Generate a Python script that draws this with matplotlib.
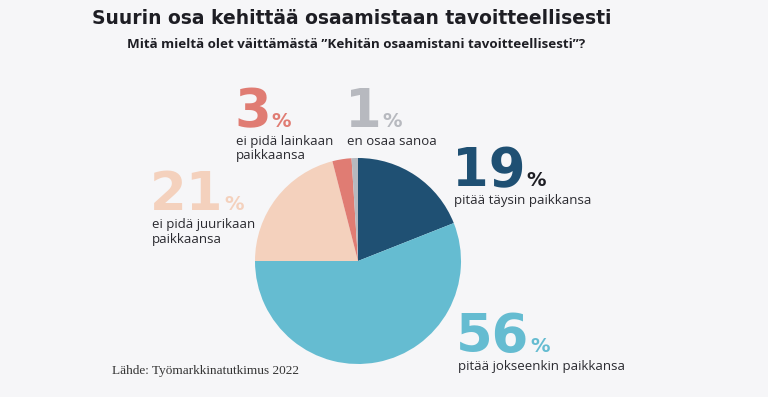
import matplotlib.pyplot as plt

# survey answers, percent
labels = ["pitää täysin paikkansa", "pitää jokseenkin paikkansa",
          "ei pidä juurikaan\npaikkaansa", "ei pidä lainkaan\npaikkaansa",
          "en osaa sanoa"]
values = [19, 56, 21, 3, 1]
colors = ["#1f5073", "#65bcd1", "#f4d1bd", "#e07c73", "#b7b9bf"]

# where the big number of each slice goes (pixels from top-left)
label_pos = [(452, 186), (456, 352), (150, 210), (234, 127), (345, 127)]

W, H = 768, 397
bg = "#f6f6f8"
fig = plt.figure(figsize=(W / 100, H / 100), dpi=100, facecolor=bg)

def px(x, y):
    return x / W, 1 - y / H

# pie
cx, cy, r = 358, 261, 103
ax = fig.add_axes([(cx - r) / W, (H - cy - r) / H, 2 * r / W, 2 * r / H])
ax.pie(values, colors=colors, startangle=90, counterclock=False,
       wedgeprops=dict(linewidth=0))
ax.set_xlim(-1, 1)
ax.set_ylim(-1, 1)
ax.set_aspect("equal")
ax.axis("off")

# titles
title = fig.text(*px(92, 18), "Suurin osa kehittää osaamistaan tavoitteellisesti",
                 fontsize=14, fontweight="bold", family="DejaVu Sans",
                 color="#1e1e24", va="center", ha="left")
fig.canvas.draw()
w = title.get_window_extent().width
title.set_fontsize(14 * 523 / w)
fig.text(*px(356, 45), "Mitä mieltä olet väittämästä ”Kehitän osaamistani tavoitteellisesti”?",
         fontsize=9.6, fontweight="bold", family="Open Sans", color="#1e1e24",
         va="center", ha="center")

# big numbers + texts
for val, lab, col, (x, y) in zip(values, labels, colors, label_pos):
    t = fig.text(*px(x, y), str(val), fontsize=38, fontweight="bold",
                 family="DejaVu Sans", color=col, va="baseline", ha="left")
    fig.canvas.draw()
    bb = t.get_window_extent()
    pc = "#1e1e24" if col == colors[0] else col
    fig.text((bb.x1 + 1) / W, 1 - y / H, "%", fontsize=14, fontweight="bold",
             family="DejaVu Sans", color=pc, va="baseline", ha="left")
    fig.text(*px(x + 2, y + 8), lab, fontsize=9.5, family="Open Sans",
             color="#2a2a30", va="top", ha="left", linespacing=1.15)

fig.text(*px(112, 371), "Lähde: Työmarkkinatutkimus 2022", fontsize=9.5,
         family="Liberation Serif", color="#333333", va="center", ha="left")

fig.savefig("out.png", dpi=100, facecolor=bg)
